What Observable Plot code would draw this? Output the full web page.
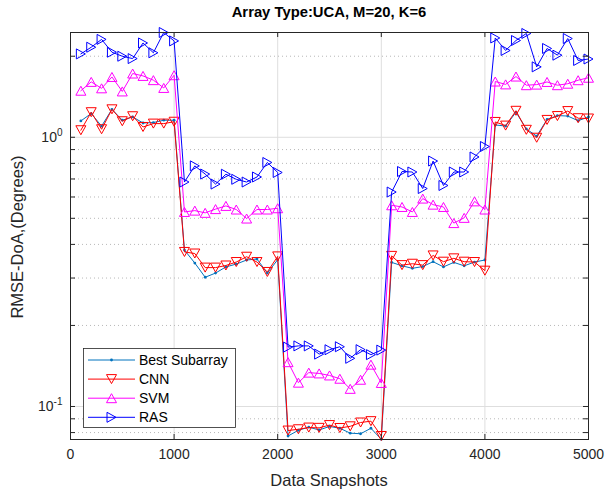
<!DOCTYPE html>
<html>
<head>
<meta charset="utf-8">
<script src="https://cdn.jsdelivr.net/npm/d3@7"></script>
<script src="https://cdn.jsdelivr.net/npm/@observablehq/plot@0.6"></script>
<style>
  html, body { margin: 0; padding: 0; background: #fff; }
  #wrap { position: relative; width: 605px; height: 490px; font-family: "Liberation Sans", Arial, Helvetica, sans-serif; }
  #wrap svg { position: absolute; left: 0; top: 0; }
  .lab { position: absolute; white-space: nowrap; color: #262626; line-height: 1; }
  #title { left: 329px; top: 5px; transform: translateX(-50%); font-weight: bold; font-size: 14.8px; color: #000; }
  #xlab { left: 329px; top: 472px; transform: translateX(-50%); font-size: 16.5px; }
  #ylab { left: 17px; top: 237px; transform: translate(-50%, -50%) rotate(-90deg); font-size: 16.5px; }
</style>
</head>
<body>
<div id="wrap">
  <div id="chart"></div>
  <div class="lab" id="title">Array Type:UCA, M=20, K=6</div>
  <div class="lab" id="xlab">Data Snapshots</div>
  <div class="lab" id="ylab">RMSE-DoA,(Degrees)</div>
</div>
<script>
// ---- data ----
const snapshots = [100,200,300,400,500,600,700,800,900,1000,
  1100,1200,1300,1400,1500,1600,1700,1800,1900,2000,
  2100,2200,2300,2400,2500,2600,2700,2800,2900,3000,
  3100,3200,3300,3400,3500,3600,3700,3800,3900,4000,
  4100,4200,4300,4400,4500,4600,4700,4800,4900,5000];

const bestSubarray = [1.15,1.225,1.10,1.27,1.157,1.19,1.13,1.134,1.157,1.157,
  0.381,0.341,0.302,0.313,0.330,0.338,0.350,0.353,0.313,0.351,
  0.0777,0.0816,0.0838,0.0818,0.0843,0.0830,0.0796,0.0792,0.0830,0.0755,
  0.343,0.333,0.326,0.331,0.345,0.330,0.343,0.333,0.344,0.350,
  1.111,1.101,1.239,1.074,1.010,1.165,1.204,1.199,1.152,1.190];

const cnn = [1.062,1.239,1.071,1.27,1.147,1.197,1.092,1.124,1.124,1.142,
  0.375,0.370,0.328,0.328,0.334,0.344,0.360,0.344,0.316,0.361,
  0.0814,0.0823,0.0835,0.0833,0.0853,0.0832,0.0844,0.0872,0.0882,0.0777,
  0.3626,0.335,0.339,0.335,0.364,0.345,0.355,0.345,0.344,0.3195,
  1.140,1.105,1.254,1.066,0.996,1.160,1.199,1.251,1.177,1.174];

const svm = [1.489,1.606,1.52,1.675,1.48,1.725,1.69,1.63,1.525,1.70,
  0.528,0.534,0.524,0.541,0.556,0.539,0.499,0.539,0.539,0.545,
  0.1461,0.1226,0.1336,0.1327,0.1304,0.1268,0.1163,0.1257,0.1430,0.1223,
  0.559,0.551,0.528,0.592,0.562,0.551,0.480,0.502,0.578,0.539,
  1.611,1.572,1.681,1.561,1.569,1.605,1.561,1.581,1.629,1.664];

const ras = [2.04,2.16,2.31,2.07,2.00,1.96,2.24,2.06,2.45,2.28,
  0.682,0.783,0.730,0.670,0.729,0.698,0.682,0.712,0.806,0.740,
  0.1662,0.1679,0.1679,0.1565,0.1625,0.1667,0.151,0.1626,0.1558,0.162,
  0.626,0.746,0.743,0.645,0.816,0.662,0.743,0.743,0.845,0.924,
  2.338,2.101,2.288,2.43,1.826,2.137,2.018,2.327,1.929,1.953];

const seriesNames = ["Best Subarray", "CNN", "SVM", "RAS"];
const xTicks = [0, 1000, 2000, 3000, 4000, 5000];
const yMajorTicks = [0.1, 1];
const yMinorTicks = [0.08, 0.09, 0.2, 0.3, 0.4, 0.5, 0.6, 0.7, 0.8, 0.9, 2];
const yTickLabels = {"0.1": "10^-1", "1": "10^0"};

// ---- styles ----
const colors = {"Best Subarray": "#0072BD", "CNN": "#FF0000", "SVM": "#FF00FF", "RAS": "#0000FF"};

function triSymbol(dir) {
  return {
    draw(ctx, size) {
      const r = Math.sqrt(size / Math.PI);
      const h = r * 0.9;
      if (dir === "up") { ctx.moveTo(0, -h); ctx.lineTo(r, h); ctx.lineTo(-r, h); }
      else if (dir === "down") { ctx.moveTo(0, h); ctx.lineTo(r, -h); ctx.lineTo(-r, -h); }
      else { ctx.moveTo(h, 0); ctx.lineTo(-h, r); ctx.lineTo(-h, -r); }
      ctx.closePath();
    }
  };
}
const symbols = {"CNN": triSymbol("down"), "SVM": triSymbol("up"), "RAS": triSymbol("right")};

const valuesBySeries = {"Best Subarray": bestSubarray, "CNN": cnn, "SVM": svm, "RAS": ras};
const rows = seriesNames.map(name => snapshots.map((x, i) => ({x, v: valuesBySeries[name][i], name})));

const W = 605, H = 490, mL = 70, mR = 17, mT = 32, mB = 51;
const pw = W - mL - mR, ph = H - mT - mB;
const axisColor = "#262626";

const marks = [
  Plot.ruleX(xTicks.slice(1, -1), {stroke: "#dedede", strokeWidth: 1}),
  Plot.ruleY(yMinorTicks, {stroke: "#b8b8b8", strokeWidth: 1, strokeDasharray: "1,3"}),
  Plot.ruleY(yMajorTicks, {stroke: "#dedede", strokeWidth: 1})
];
seriesNames.forEach((name, k) => {
  marks.push(Plot.line(rows[k], {x: "x", y: "v", stroke: colors[name], strokeWidth: 1}));
  if (name === "Best Subarray") {
    marks.push(Plot.dot(rows[k], {x: "x", y: "v", r: 1.4, fill: colors[name], stroke: "none"}));
  } else {
    marks.push(Plot.dot(rows[k], {x: "x", y: "v", r: 5, symbol: symbols[name], stroke: colors[name], fill: "none", strokeWidth: 1}));
  }
});
marks.push(
  Plot.frame({stroke: axisColor, strokeWidth: 1}),
  Plot.ruleX(xTicks, {stroke: axisColor, insetTop: ph - 5}),
  Plot.ruleX(xTicks, {stroke: axisColor, insetBottom: ph - 5}),
  Plot.ruleY(yMajorTicks.concat(yMinorTicks), {stroke: axisColor, insetRight: pw - 5}),
  Plot.ruleY(yMajorTicks.concat(yMinorTicks), {stroke: axisColor, insetLeft: pw - 5}),
  Plot.axisX(xTicks, {tickSize: 0, tickPadding: 10, label: null, fontSize: 14, tickFormat: d => String(d)}),
  Plot.axisY(yMajorTicks, {tickSize: 0, tickPadding: 8, label: null, fontSize: 14,
    tickFormat: d => yTickLabels[String(d)]})
);

const plot = Plot.plot({
  width: W, height: H,
  marginLeft: mL, marginRight: mR, marginTop: mT, marginBottom: mB,
  x: {domain: [0, 5000]},
  y: {type: "log", domain: [0.0754, 2.45]},
  style: {fontFamily: "'Liberation Sans', Arial, Helvetica, sans-serif", fontSize: "14px", color: axisColor, background: "white"},
  marks
});

// superscript exponents for the log tick labels
d3.select(plot).selectAll('g[aria-label="y-axis tick label"] text').each(function() {
  const t = d3.select(this).text();
  const parts = t.split("^");
  if (parts.length === 2) {
    const sel = d3.select(this);
    sel.text(null);
    sel.append("tspan").text(parts[0]);
    sel.append("tspan").attr("dy", "-0.55em").attr("font-size", "10px").text(parts[1]);
  }
});

// legend
const lg = d3.select(plot).append("g").attr("font-family", "'Liberation Sans', Arial, sans-serif").attr("font-size", 14);
lg.append("rect").attr("x", 83.5).attr("y", 348.5).attr("width", 152).attr("height", 79)
  .attr("fill", "white").attr("stroke", axisColor).attr("stroke-width", 0.8);
seriesNames.forEach((name, k) => {
  const yy = 360 + k * 19.1;
  lg.append("line").attr("x1", 88).attr("x2", 135).attr("y1", yy).attr("y2", yy)
    .attr("stroke", colors[name]).attr("stroke-width", 1);
  if (name === "Best Subarray") {
    lg.append("circle").attr("cx", 111.5).attr("cy", yy).attr("r", 1.4).attr("fill", colors[name]);
  } else {
    const p = d3.path();
    symbols[name].draw(p, 25 * Math.PI);
    lg.append("path").attr("d", p.toString()).attr("transform", `translate(111.5,${yy})`)
      .attr("fill", "none").attr("stroke", colors[name]).attr("stroke-width", 1);
  }
  lg.append("text").attr("x", 139).attr("y", yy).attr("dy", "0.35em").attr("text-anchor", "start")
    .attr("fill", "#000").text(name);
});

document.getElementById("chart").appendChild(plot);
</script>
</body>
</html>
